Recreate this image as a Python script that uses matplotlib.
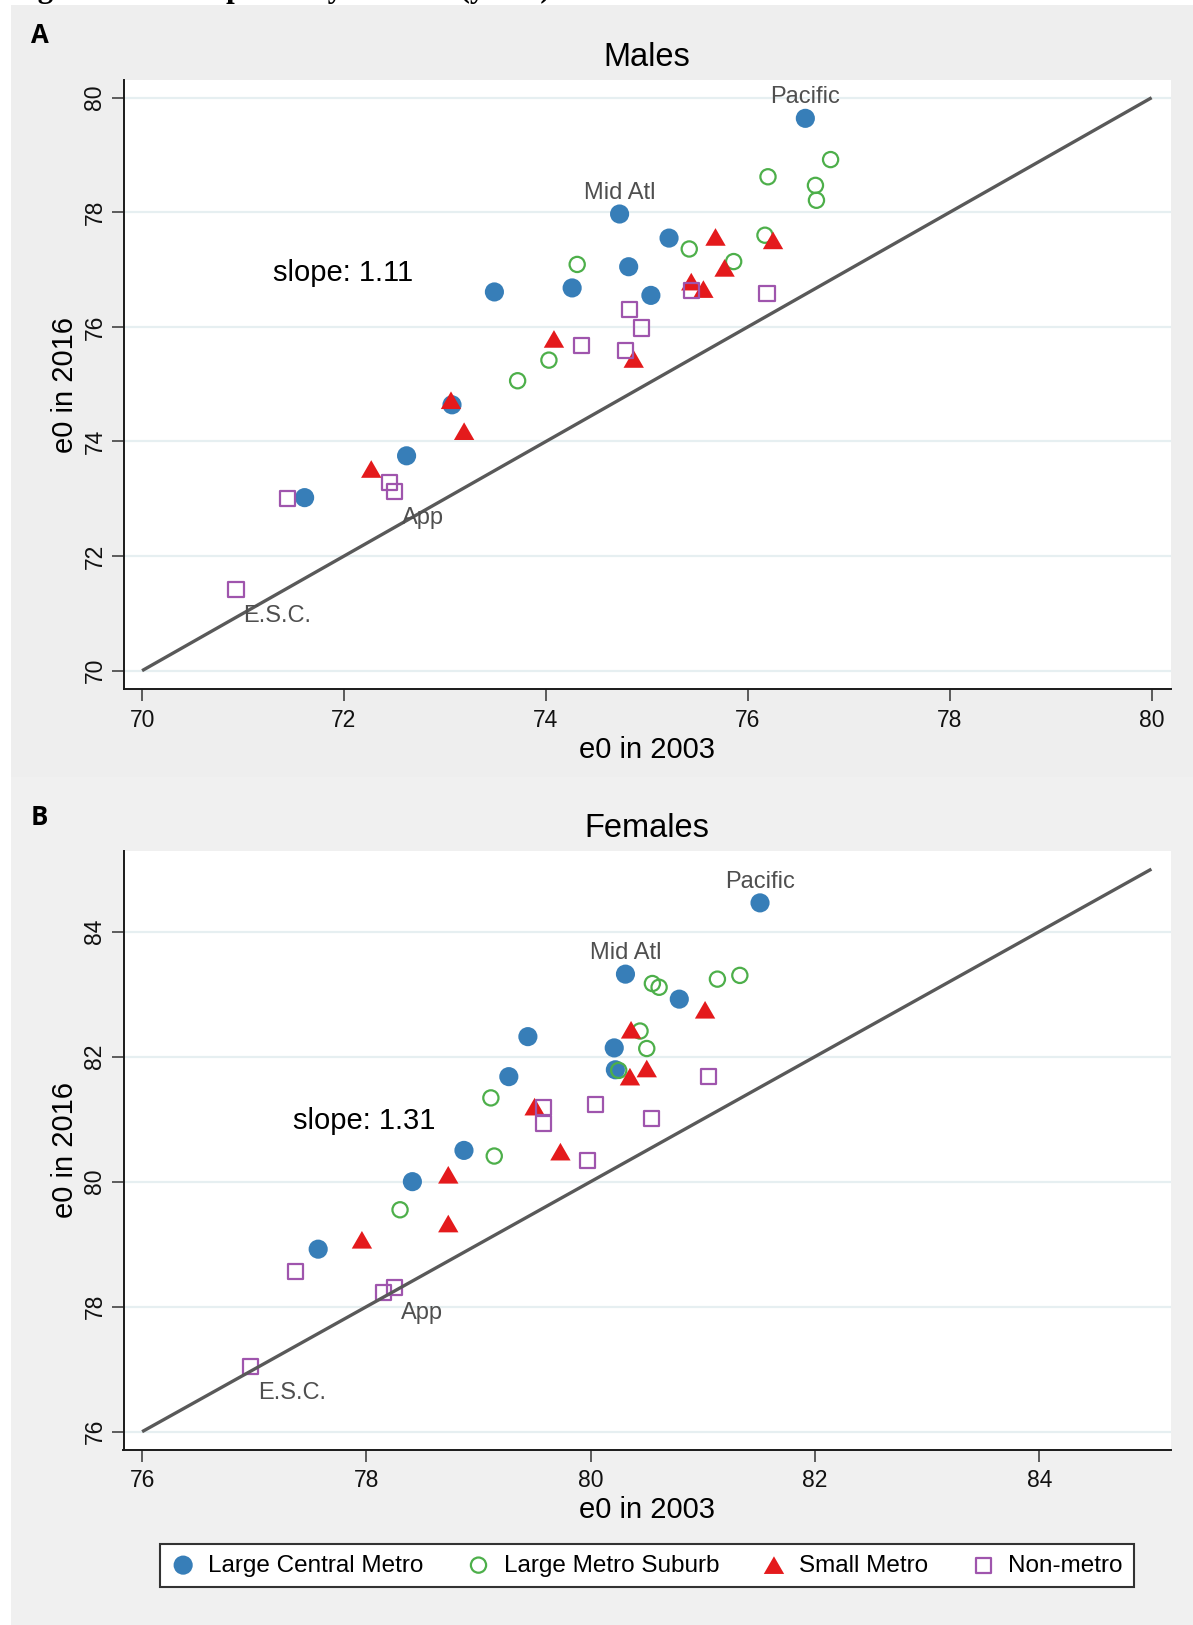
import matplotlib.pyplot as plt
from matplotlib.patches import Rectangle

plt.rcParams['font.family'] = ['Liberation Sans', 'DejaVu Sans']

W, H = 1193, 1625

#####################################################################
## Data: life expectancy (e0) in 2003 vs 2016, by region and      ##
## urbanization category.                                          ##
#####################################################################
groups = ['Large Central Metro', 'Large Metro Suburb', 'Small Metro', 'Non-metro']

# Males
m_lcm_x = [76.57, 74.73, 75.22, 74.82, 74.26, 73.49, 75.04, 73.07, 72.62, 71.61]
m_lcm_y = [79.64, 77.97, 77.55, 77.05, 76.68, 76.61, 76.55, 74.64, 73.75, 73.02]
m_lms_x = [76.82, 76.20, 76.67, 76.68, 76.17, 74.31, 75.42, 75.86, 74.03, 73.72]
m_lms_y = [78.92, 78.62, 78.47, 78.21, 77.60, 77.09, 77.36, 77.14, 75.42, 75.06]
m_sm_x  = [75.68, 76.25, 75.77, 75.44, 75.56, 74.08, 74.87, 73.06, 73.19, 72.27]
m_sm_y  = [77.57, 77.51, 77.03, 76.79, 76.66, 75.79, 75.44, 74.72, 74.18, 73.52]
m_nm_x  = [76.19, 75.44, 74.83, 74.95, 74.35, 74.79, 72.45, 72.50, 71.44, 70.93]
m_nm_y  = [76.59, 76.64, 76.31, 75.98, 75.68, 75.59, 73.28, 73.12, 73.00, 71.41]

# Females
f_lcm_x = [81.51, 80.31, 80.79, 79.44, 80.21, 80.22, 79.27, 78.87, 78.41, 77.57]
f_lcm_y = [84.46, 83.32, 82.92, 82.32, 82.14, 81.79, 81.68, 80.50, 80.00, 78.92]
f_lms_x = [81.33, 81.13, 80.55, 80.61, 80.44, 80.50, 80.25, 79.11, 79.14, 78.30]
f_lms_y = [83.30, 83.24, 83.17, 83.11, 82.41, 82.13, 81.78, 81.34, 80.41, 79.55]
f_sm_x  = [81.02, 80.36, 80.50, 80.35, 79.50, 79.73, 78.73, 78.73, 77.96]
f_sm_y  = [82.75, 82.43, 81.81, 81.68, 81.20, 80.48, 80.11, 79.33, 79.07]
f_nm_x  = [81.05, 79.58, 79.58, 80.04, 80.54, 79.97, 77.37, 78.25, 78.15, 76.97]
f_nm_y  = [81.68, 81.19, 80.93, 81.24, 81.01, 80.34, 78.56, 78.31, 78.22, 77.04]

slope_m = '1.11'
slope_f = '1.31'

# labelled points: (text, group index, point index, placement)
labels_m = [('Pacific', 0, 0, 'top'), ('Mid Atl', 0, 1, 'top'),
            ('App', 3, 7, 'lowright'), ('E.S.C.', 3, 9, 'lowright')]
labels_f = [('Pacific', 0, 0, 'top'), ('Mid Atl', 0, 1, 'top'),
            ('App', 3, 7, 'lowright'), ('E.S.C.', 3, 9, 'lowright')]

# 45 degree reference line
line_m = [70, 80]
line_f = [76, 85]

#####################################################################
## Styles                                                          ##
#####################################################################
tri = [(-1, -0.866), (1, -0.866), (0, 0.866)]
styles = [
    dict(marker='o', s=190, facecolor='#377eb8', edgecolor='none'),
    dict(marker='o', s=120, facecolor='none', edgecolor='#4daf4a', linewidths=1.6),
    dict(marker=tri, s=215, facecolor='#e41a1c', edgecolor='none'),
    dict(marker='s', s=118, facecolor='none', edgecolor='#9f55ad', linewidths=1.6),
]


def px_axes(fig, l, t, r, b):
    return fig.add_axes([l / W, 1 - b / H, (r - l) / W, (b - t) / H])


def draw_panel(ax, xs, ys, line, title, slope, slope_pos, labels,
               xlim, ylim, ticks, box):
    l, t, r, b = box
    h = b - t
    handles = []
    for x, y, st in zip(xs, ys, styles):
        handles.append(ax.scatter(x, y, zorder=2, **st))

    ax.plot(line, line, color='#595959', lw=2.4, zorder=3, solid_capstyle='butt')

    for txt, g, i, pos in labels:
        if pos == 'top':
            off, ha = (0, 21), 'center'
        else:
            off, ha = (7, -26), 'left'
        ax.annotate(txt, (xs[g][i], ys[g][i]), xytext=off, textcoords='offset pixels',
                    ha=ha, va='center', fontsize=17, color='#4f4f4f', zorder=4)

    ax.text(slope_pos[0], slope_pos[1], f'slope: {slope}', transform=ax.transAxes,
            fontsize=21, ha='left', va='center', color='black')

    ax.set_xlim(xlim)
    ax.set_ylim(ylim)
    ax.set_xticks(ticks[0])
    ax.set_yticks(ticks[1])

    for s in ['top', 'right']:
        ax.spines[s].set_visible(False)
    for s in ['left', 'bottom']:
        ax.spines[s].set_linewidth(1.4)
        ax.spines[s].set_color('#1a1a1a')

    ax.yaxis.grid(True, color='#e6eff1', lw=1.6)
    ax.set_axisbelow(True)

    ax.tick_params(axis='both', length=8.6, width=1.1, color='#333333',
                   labelsize=16.5, labelcolor='#111111')
    ax.tick_params(axis='x', pad=5.3)
    ax.tick_params(axis='y', pad=3.7, labelrotation=90)
    for lab in ax.get_yticklabels():
        lab.set_va('center')

    ax.set_title(title, fontsize=23.5, y=1 + 23 / h, pad=0, va='center')

    ax.set_xlabel('e0 in 2003', fontsize=21)
    ax.xaxis.set_label_coords(0.5, -(59.5 if b > 1000 else 61.1) / h)
    ax.xaxis.label.set_va('center')
    ax.set_ylabel('e0 in 2016', fontsize=21)
    ax.yaxis.set_label_coords(-(123.5 - 65.3) / (r - l), 0.5)
    ax.yaxis.label.set_va('center')
    return handles


fig = plt.figure(figsize=(W / 100, H / 100), dpi=100, facecolor='white')

# grey graph regions (behind the axes)
fig.patches.append(Rectangle((11 / W, 1 - 776.7 / H), 1, (776.7 - 5) / H,
                             transform=fig.transFigure, facecolor='#eeeeee',
                             edgecolor='none', zorder=-10))
fig.patches.append(Rectangle((11 / W, 0), 1, (H - 776.7) / H,
                             transform=fig.transFigure, facecolor='#f0f0f0',
                             edgecolor='none', zorder=-10))

# caption of the page above, cut at the top edge as in the source
fig.text(9.7 / W, 1 + 3.2 / H, 'Figure 2. Life expectancy at birth (years)',
         family=['Liberation Serif', 'DejaVu Serif'], fontweight='bold',
         fontsize=22.3, ha='left', va='baseline')

boxA = (123.5, 80, 1170.7, 689.3)
boxB = (123.5, 851, 1170.7, 1450)

axA = px_axes(fig, *boxA)
draw_panel(axA,
           [m_lcm_x, m_lms_x, m_sm_x, m_nm_x],
           [m_lcm_y, m_lms_y, m_sm_y, m_nm_y],
           line_m, 'Males', slope_m, (0.1424, 0.684), labels_m,
           (69.816, 80.189), (69.675, 80.309),
           ([70, 72, 74, 76, 78, 80], [70, 72, 74, 76, 78, 80]), boxA)

axB = px_axes(fig, *boxB)
handles = draw_panel(axB,
                     [f_lcm_x, f_lms_x, f_sm_x, f_nm_x],
                     [f_lcm_y, f_lms_y, f_sm_y, f_nm_y],
                     line_f, 'Females', slope_f, (0.1622, 0.550), labels_f,
                     (75.834, 85.172), (75.707, 85.29),
                     ([76, 78, 80, 82, 84], [76, 78, 80, 82, 84]), boxB)

fig.text(39.5 / W, 1 - 35.5 / H, 'A', fontsize=18.5, fontweight='bold',
         family=['Open Sans', 'DejaVu Sans'], ha='center', va='center')
fig.text(39.5 / W, 1 - 817.5 / H, 'B', fontsize=18.5, fontweight='bold',
         family=['Open Sans', 'DejaVu Sans'], ha='center', va='center')

leg = fig.legend(handles, groups, loc='center', bbox_to_anchor=(646.8 / W, 1 - 1565.5 / H),
                 ncol=4, fontsize=17.5, frameon=True, fancybox=False, framealpha=1,
                 edgecolor='#333333', handlelength=1.0, handletextpad=0.53,
                 columnspacing=1.76, borderpad=0.45, scatterpoints=1)
leg.get_frame().set_linewidth(1.5)

fig.savefig('out.png', dpi=100)
